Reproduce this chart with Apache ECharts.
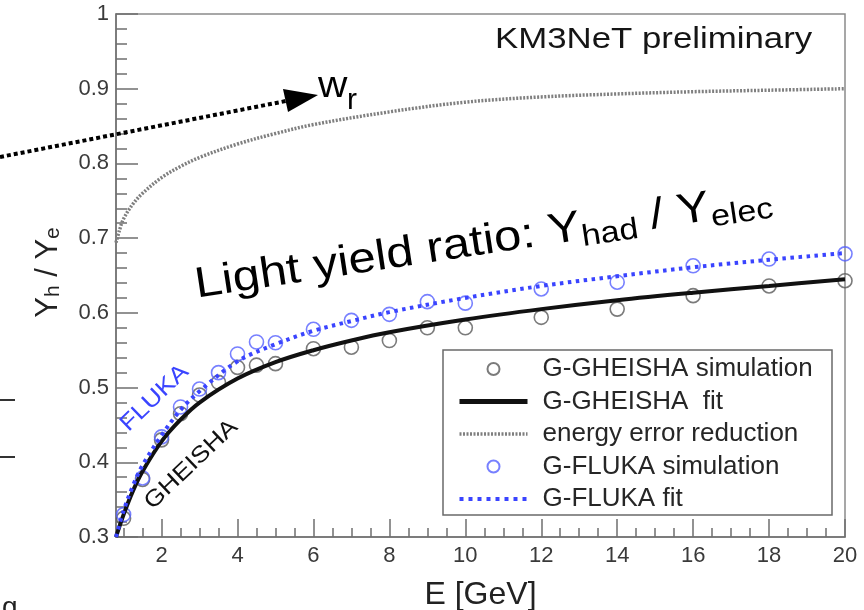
<!DOCTYPE html>
<html>
<head>
<meta charset="utf-8">
<script src="https://cdn.jsdelivr.net/npm/echarts@6/dist/echarts.min.js"></script>
<style>
  html, body { margin: 0; padding: 0; background: #fff; }
  #chart { width: 864px; height: 610px; }
</style>
</head>
<body>
<div id="chart"></div>
<script>
// Simulated light-yield ratio points (hadronic / electromagnetic) vs. energy
const energies = [1, 1.5, 2, 2.5, 3, 3.5, 4, 4.5, 5, 6, 7, 8, 9, 10, 12, 14, 16, 18, 20];
const gheishaSim = [0.325, 0.377, 0.430, 0.465, 0.490, 0.507, 0.527, 0.530, 0.532, 0.552, 0.554, 0.563, 0.580, 0.580, 0.594, 0.605, 0.623, 0.636, 0.643];
const flukaSim = [0.330, 0.379, 0.434, 0.474, 0.498, 0.520, 0.545, 0.561, 0.560, 0.578, 0.590, 0.598, 0.615, 0.613, 0.632, 0.641, 0.663, 0.672, 0.679];

// Fitted curves
const fitEnergies = [0.8, 1, 1.25, 1.5, 2, 2.5, 3, 4, 5, 6, 7, 8, 10, 12, 14, 16, 18, 20];
const gheishaFit = [0.300, 0.330, 0.362, 0.388, 0.428, 0.457, 0.480, 0.512, 0.534, 0.550, 0.563, 0.574, 0.591, 0.605, 0.617, 0.627, 0.636, 0.645];
const flukaFit = [0.300, 0.335, 0.369, 0.396, 0.436, 0.470, 0.495, 0.535, 0.558, 0.576, 0.589, 0.601, 0.620, 0.636, 0.649, 0.661, 0.671, 0.680];

// Energy error reduction factor
const errEnergies = [0.8, 0.9, 1, 1.25, 1.5, 2, 2.5, 3, 4, 5, 6, 8, 10, 12, 14, 16, 18, 20];
const errReduction = [0.694, 0.712, 0.726, 0.746, 0.760, 0.781, 0.796, 0.808, 0.826, 0.840, 0.852, 0.869, 0.882, 0.889, 0.893, 0.896, 0.898, 0.900];

// Axis ticks
const xMajorTicks = [2, 4, 6, 8, 10, 12, 14, 16, 18, 20];
const xMinorTicks = [1, 1.5, 2.5, 3, 3.5, 4.5, 5, 5.5, 6.5, 7, 7.5, 8.5, 9, 9.5, 10.5, 11, 11.5,
  12.5, 13, 13.5, 14.5, 15, 15.5, 16.5, 17, 17.5, 18.5, 19, 19.5];

const pairs = (xs, ys) => xs.map((x, i) => [x, ys[i]]);

const FONT = 'Liberation Sans, Arial, Helvetica, sans-serif';
const BLUE = '#3a44ff';
const AXIS_GREY = '#6f6f6f';
const ERR_GREY = '#7f7f7f';

const chart = echarts.init(document.getElementById('chart'), null, { renderer: 'canvas' });

const deg = Math.PI / 180;

chart.setOption({
  animation: false,
  backgroundColor: '#fff',
  textStyle: { fontFamily: FONT },
  grid: {
    left: 116, right: 19, top: 14, bottom: 73,
    outerBoundsMode: 'none', containLabel: false,
    show: true, borderColor: '#8a8a8a', borderWidth: 1.5, backgroundColor: 'transparent'
  },
  xAxis: [
    {
      type: 'value', min: 0.8, max: 20,
      name: 'E [GeV]', nameLocation: 'middle', nameGap: 42,
      nameTextStyle: { fontSize: 32, color: '#222', fontFamily: FONT },
      axisLine: { show: true, lineStyle: { color: AXIS_GREY, width: 1.5 } },
      axisTick: { show: true, inside: true, length: 18, customValues: xMajorTicks, lineStyle: { color: AXIS_GREY, width: 1.5 } },
      axisLabel: { show: true, customValues: xMajorTicks, fontSize: 22, color: '#3a3a3a', margin: 8, fontFamily: FONT },
      splitLine: { show: false }
    },
    {
      type: 'value', min: 0.8, max: 20, position: 'bottom',
      axisLine: { show: false },
      axisTick: { show: true, inside: true, length: 9, customValues: xMinorTicks, lineStyle: { color: AXIS_GREY, width: 1.5 } },
      axisLabel: { show: false },
      splitLine: { show: false }
    }
  ],
  yAxis: {
    type: 'value', min: 0.3, max: 1, interval: 0.1,
    name: '{y|Y}{s|h}{y| / Y}{s|e}', nameLocation: 'middle', nameGap: 52, nameRotate: 90,
    nameTextStyle: {
      color: '#222',
      padding: [0, 0, 0, 6],
      rich: {
        y: { fontSize: 31, lineHeight: 31, verticalAlign: 'top', fontFamily: FONT, color: '#222' },
        s: { fontSize: 21, lineHeight: 21, verticalAlign: 'bottom', fontFamily: FONT, color: '#222' }
      },
      lineHeight: 36
    },
    axisLine: { show: true, lineStyle: { color: AXIS_GREY, width: 1.5 } },
    axisTick: { show: true, inside: true, length: 22, lineStyle: { color: AXIS_GREY, width: 1.5 } },
    minorTick: { show: true, splitNumber: 5, length: 11, lineStyle: { color: AXIS_GREY, width: 1.5 } },
    axisLabel: {
      fontSize: 22, color: '#3a3a3a', margin: 7, fontFamily: FONT,
      formatter: v => (Math.abs(v - 1) < 1e-9 ? '1' : v.toFixed(1))
    },
    splitLine: { show: false },
    minorSplitLine: { show: false }
  },
  legend: {
    orient: 'vertical', left: 457, top: 356, padding: 0,
    itemWidth: 68, itemHeight: 12, itemGap: 6.5,
    textStyle: { fontSize: 26, lineHeight: 26, color: '#262626', fontFamily: FONT, padding: [0, 0, 0, 10] },
    data: [
      { name: 'G-GHEISHA simulation' },
      { name: 'G-GHEISHA  fit', itemStyle: { opacity: 0 }, lineStyle: { width: 5, color: '#111' } },
      { name: 'energy error reduction', itemStyle: { opacity: 0 }, lineStyle: { width: 3.5, color: ERR_GREY, type: [2, 1.5] } },
      { name: 'G-FLUKA simulation' },
      { name: 'G-FLUKA fit', itemStyle: { opacity: 0 }, lineStyle: { width: 4, color: BLUE, type: [4, 5] } }
    ]
  },
  series: [
    {
      name: 'energy error reduction', type: 'line', smooth: 0.35, symbol: 'none',
      data: pairs(errEnergies, errReduction),
      lineStyle: { color: ERR_GREY, width: 3.5, type: [2, 1.5] }, itemStyle: { color: ERR_GREY }
    },
    {
      name: 'G-GHEISHA simulation', type: 'scatter', symbol: 'circle', symbolSize: 14,
      data: pairs(energies, gheishaSim),
      itemStyle: { color: 'rgba(255,255,255,0)', borderColor: '#5a5a5a', borderWidth: 1.6 }
    },
    {
      name: 'G-GHEISHA  fit', type: 'line', smooth: 0.35, symbol: 'none',
      data: pairs(fitEnergies, gheishaFit),
      lineStyle: { color: '#111', width: 4 }, itemStyle: { color: '#111' }
    },
    {
      name: 'G-FLUKA simulation', type: 'scatter', symbol: 'circle', symbolSize: 14,
      data: pairs(energies, flukaSim),
      itemStyle: { color: 'rgba(255,255,255,0)', borderColor: '#5560ff', borderWidth: 1.6 }
    },
    {
      name: 'G-FLUKA fit', type: 'line', smooth: 0.35, symbol: 'none',
      data: pairs(fitEnergies, flukaFit),
      lineStyle: { color: BLUE, width: 4, type: [3.5, 4.5] }, itemStyle: { color: BLUE }
    }
  ],
  graphic: [
    // legend frame
    { type: 'rect', shape: { x: 443, y: 350, width: 389, height: 165 }, style: { fill: 'none', stroke: '#6a6a6a', lineWidth: 1.5 }, z: 1 },
    // experiment label
    { type: 'text', x: 495, y: 55, scaleX: 1.16, style: { text: 'KM3NeT preliminary', font: '30px ' + FONT, fill: '#151515', textVerticalAlign: 'bottom' }, z: 10 },
    // headline annotation across the plot
    {
      type: 'text', x: 199, y: 311, rotation: 8.6 * deg, scaleX: 1.14,
      style: {
        text: '{b|Light yield ratio: Y}{s|had}{b| / Y}{s|elec}',
        textVerticalAlign: 'bottom', fill: '#000',
        rich: {
          b: { fontSize: 43, lineHeight: 47, verticalAlign: 'top', fontFamily: FONT, fill: '#000' },
          s: { fontSize: 30, lineHeight: 30, verticalAlign: 'bottom', fontFamily: FONT, fill: '#000' }
        }
      }, z: 10
    },
    // curve labels
    { type: 'text', x: 132, y: 436, rotation: 44 * deg, scaleX: 1.15, style: { text: 'FLUKA', font: '23px ' + FONT, fill: BLUE, textVerticalAlign: 'bottom' }, z: 10 },
    { type: 'text', x: 156, y: 514, rotation: 43.5 * deg, scaleX: 1.15, style: { text: 'GHEISHA', font: '23px ' + FONT, fill: '#111', textVerticalAlign: 'bottom' }, z: 10 },
    // resolution arrow w_r
    { type: 'line', shape: { x1: 0, y1: 157, x2: 286, y2: 101 }, style: { stroke: '#000', lineWidth: 4, lineDash: [4, 3] }, z: 10 },
    { type: 'polygon', shape: { points: [[318, 95], [283, 89], [288, 112]] }, style: { fill: '#000' }, z: 10 },
    { type: 'text', x: 318, y: 105, scaleX: 1.1, style: { text: 'w', font: '37px ' + FONT, fill: '#000', textVerticalAlign: 'bottom' }, z: 10 },
    { type: 'text', x: 347, y: 116, style: { text: 'r', font: '30px ' + FONT, fill: '#000', textVerticalAlign: 'bottom' }, z: 10 },
    // fragments at the left edge
    { type: 'line', shape: { x1: 0, y1: 400, x2: 15, y2: 400 }, style: { stroke: '#333', lineWidth: 2 } },
    { type: 'line', shape: { x1: 0, y1: 457, x2: 15, y2: 457 }, style: { stroke: '#333', lineWidth: 2 } },
    { type: 'text', x: 2, y: 622, style: { text: 'g', font: '28px ' + FONT, fill: '#222', textVerticalAlign: 'bottom' } }
  ]
});
</script>
</body>
</html>
